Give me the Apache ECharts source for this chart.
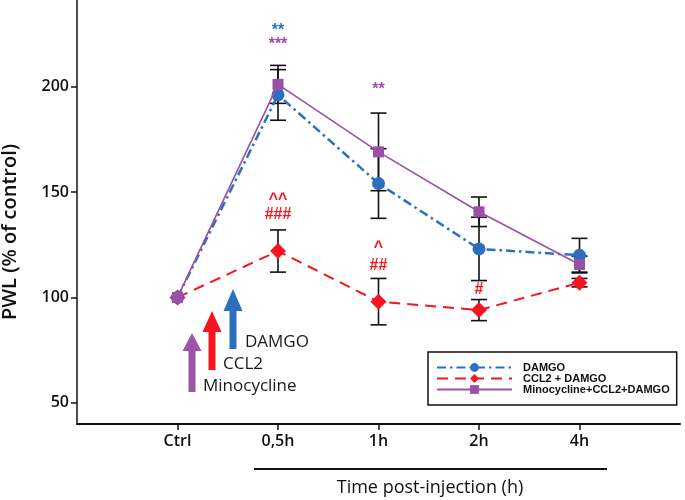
<!DOCTYPE html>
<html>
<head>
<meta charset="utf-8">
<script src="https://cdn.jsdelivr.net/npm/echarts@6/dist/echarts.min.js"></script>
<style>html,body{margin:0;padding:0;background:#fff}#c{width:685px;height:500px}</style>
</head>
<body>
<div id="c"></div>
<script>
// ---- data ----
var categories = ['', 'Ctrl', '0,5h', '1h', '2h', '4h', ''];
var pointCats = ['Ctrl', '0,5h', '1h', '2h', '4h'];
var damgo = [100, 196, 154, 123, 120];
var damgoErr = [0, 12, 16.5, 15, 8];
var ccl2 = [100, 122, 98, 94, 107];
var ccl2Err = [0, 10, 11, 5, 2];
var mino = [100, 201, 169, 140.6, 115.6];
var minoErr = [0, 9, 18.4, 7, 4];
var yTicks = [50, 100, 150, 200];
// significance marks: category, y value, text, series colour key
var annoCats = ['0,5h', '0,5h', '0,5h', '0,5h', '1h', '1h', '1h', '2h'];
var annoVals = [226.5, 219.9, 146.4, 139.3, 198.6, 123.7, 115.1, 103.8];
var annoTexts = ['**', '***', '^^', '###', '**', '^', '##', '#'];
var annoKeys = ['blue', 'purple', 'red', 'red', 'purple', 'red', 'red', 'red'];

var COL = {blue: '#2a70bf', red: '#f5141f', purple: '#9b4fa6'};
var FONT = '"Open Sans", sans-serif';

function errData(vals, errs) {
  return pointCats.map(function (c, i) { return [c, vals[i], errs[i]]; });
}
function pairs(vals) {
  return pointCats.map(function (c, i) { return [c, vals[i]]; });
}
function errRender(params, api) {
  var x = api.value(0), y = api.value(1), e = api.value(2);
  if (!e) return;
  var top = api.coord([x, y + e]);
  var bot = api.coord([x, y - e]);
  var hw = 8;
  var st = {stroke: '#111', lineWidth: 1.6};
  return {type: 'group', children: [
    {type: 'line', shape: {x1: top[0], y1: top[1], x2: bot[0], y2: bot[1]}, style: st},
    {type: 'line', shape: {x1: top[0] - hw, y1: top[1], x2: top[0] + hw, y2: top[1]}, style: st},
    {type: 'line', shape: {x1: bot[0] - hw, y1: bot[1], x2: bot[0] + hw, y2: bot[1]}, style: st}
  ]};
}
var annoData = annoCats.map(function (c, i) { return [c, annoVals[i], annoTexts[i], annoKeys[i]]; });

function arrow(cx, tip, base, bottom, color) {
  var sw = 3.5, hw = 9.5;
  return {type: 'polygon', shape: {points: [
    [cx, tip], [cx + hw, base], [cx + sw, base], [cx + sw, bottom],
    [cx - sw, bottom], [cx - sw, base], [cx - hw, base]
  ]}, style: {fill: color}, z: 10};
}

var chart = echarts.init(document.getElementById('c'));
chart.setOption({
  animation: false,
  grid: {left: 77, right: 5, top: 0, bottom: 76},
  xAxis: {
    type: 'category', data: categories, boundaryGap: false,
    axisLine: {lineStyle: {color: '#111', width: 2}},
    axisTick: {length: 6, lineStyle: {color: '#111', width: 1.5},
      interval: function (i, v) { return v !== ''; }},
    axisLabel: {margin: 9, fontSize: 16, fontWeight: 600, color: '#111', fontFamily: FONT,
      interval: function (i, v) { return v !== ''; }},
    splitLine: {show: false}
  },
  yAxis: {
    type: 'value', min: 40, max: 241,
    axisLine: {show: true, lineStyle: {color: '#111', width: 1.5}},
    axisTick: {show: true, length: 6, customValues: yTicks, lineStyle: {color: '#111', width: 1.5}},
    axisLabel: {customValues: yTicks, margin: 8, fontSize: 16, fontWeight: 600, color: '#111', fontFamily: FONT},
    splitLine: {show: false}
  },
  legend: {
    orient: 'vertical', left: 428, top: 352,
    itemWidth: 75, itemHeight: 11, itemGap: 0,
    padding: [10, 7, 10, 8],
    borderColor: '#111', borderWidth: 1.5,
    textStyle: {fontFamily: '"Liberation Sans", Arial, sans-serif', fontWeight: 'bold', fontSize: 11,
      color: '#111', padding: [0, 0, 0, 6], lineHeight: 11},
    data: ['DAMGO', 'CCL2 + DAMGO', 'Minocycline+CCL2+DAMGO']
  },
  series: [
    {type: 'custom', name: 'errD', data: errData(damgo, damgoErr), renderItem: errRender, z: 1, silent: true},
    {type: 'custom', name: 'errC', data: errData(ccl2, ccl2Err), renderItem: errRender, z: 1, silent: true},
    {type: 'custom', name: 'errM', data: errData(mino, minoErr), renderItem: errRender, z: 1, silent: true},
    {type: 'line', name: 'CCL2 + DAMGO', data: pairs(ccl2), z: 3,
      symbol: 'diamond', symbolSize: 16,
      itemStyle: {color: COL.red},
      lineStyle: {color: COL.red, width: 2, type: [11, 7]}},
    {type: 'line', name: 'DAMGO', data: pairs(damgo), z: 4,
      symbol: 'circle', symbolSize: 13,
      itemStyle: {color: COL.blue},
      lineStyle: {color: COL.blue, width: 2.5, type: [9, 4, 2.5, 4]}},
    {type: 'line', name: 'Minocycline+CCL2+DAMGO', data: pairs(mino), z: 5,
      symbol: 'rect', symbolSize: 11,
      itemStyle: {color: COL.purple},
      lineStyle: {color: COL.purple, width: 1.6}},
    {type: 'custom', name: 'anno', data: annoData, z: 6, silent: true,
      renderItem: function (params, api) {
        var p = api.coord([api.value(0), api.value(1)]);
        var d = annoData[params.dataIndex];
        return {type: 'text', x: p[0], y: p[1], style: {
          text: d[2], fill: COL[d[3]], font: 'bold 16px "Liberation Sans", Arial, sans-serif',
          align: 'center', verticalAlign: 'middle'}};
      }}
  ],
  graphic: [
    {type: 'text', x: 10, y: 232, rotation: Math.PI / 2, z: 10,
      style: {text: 'PWL (% of control)', font: '600 20px ' + FONT, fill: '#111',
        align: 'center', verticalAlign: 'middle'}},
    {type: 'line', shape: {x1: 254, y1: 469, x2: 607, y2: 469}, style: {stroke: '#111', lineWidth: 2}},
    {type: 'text', x: 430, y: 488, style: {text: 'Time post-injection (h)', font: '500 18px ' + FONT,
      fill: '#111', align: 'center', verticalAlign: 'middle'}},
    arrow(192, 333, 351, 392, '#9b55a8'),
    arrow(212, 311, 332, 370, '#f5141f'),
    arrow(233, 289, 311, 349, '#2a6fbd'),
    {type: 'text', x: 245, y: 342, style: {text: 'DAMGO', font: '500 17px ' + FONT, fill: '#1a1a1a', verticalAlign: 'middle'}},
    {type: 'text', x: 223, y: 364, style: {text: 'CCL2', font: '500 17px ' + FONT, fill: '#1a1a1a', verticalAlign: 'middle'}},
    {type: 'text', x: 203, y: 386, style: {text: 'Minocycline', font: '500 17px ' + FONT, fill: '#1a1a1a', verticalAlign: 'middle'}}
  ]
});
</script>
</body>
</html>
